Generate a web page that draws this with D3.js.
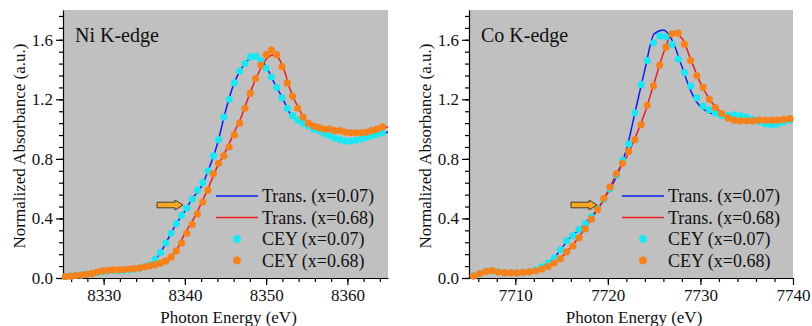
<!DOCTYPE html>
<html>
<head>
<meta charset="utf-8">
<script src="https://cdn.jsdelivr.net/npm/d3@7"></script>
<style>
  body { margin: 0; background: #fff; }
  svg text { font-family: "Liberation Serif", "Times New Roman", serif; fill: #111; }
  .axis path, .axis line { stroke: #000; stroke-width: 1.2; }
</style>
</head>
<body>
<div id="chart"></div>
<script>
// ---- Ni K-edge data ----
var niTransE = [8325,8326,8327,8328,8329,8330,8331,8332,8333,8334,8335,8336,8337,8338,8339,8340,8341,8342,8343,8344,
  8345,8346,8347,8348,8349,8350,8351,8352,8353,8354,8355,8356,8357,8358,8359,8360,8361,8362,8363,8364,8365];
var niTrans007 = [0.01,0.015,0.02,0.025,0.035,0.045,0.05,0.05,0.055,0.06,0.075,0.10,0.17,0.27,0.37,0.45,0.54,0.61,0.74,0.90,
  1.12,1.30,1.41,1.47,1.48,1.42,1.31,1.21,1.10,1.055,1.03,1.00,0.975,0.955,0.935,0.925,0.925,0.935,0.95,0.965,0.98];
var niTrans068 = [0.01,0.015,0.02,0.025,0.035,0.05,0.055,0.055,0.06,0.065,0.075,0.085,0.10,0.13,0.19,0.30,0.39,0.50,0.62,0.75,
  0.85,0.97,1.09,1.24,1.37,1.47,1.50,1.43,1.26,1.14,1.05,1.02,1.005,0.995,0.99,0.98,0.975,0.975,0.985,1.00,1.015];
var niCeyE = [8325.3,8325.95,8326.6,8327.25,8327.9,8328.55,8329.2,8329.85,8330.5,8331.15,8331.8,8332.45,8333.1,8333.75,
  8334.4,8335.05,8335.7,8336.35,8337.0,8337.65,8338.3,8338.95,8339.6,8340.25,8340.9,8341.55,8342.2,8342.85,8343.5,8344.15,
  8344.8,8345.45,8346.1,8346.75,8347.4,8348.05,8348.7,8349.35,8350.0,8350.65,8351.3,8351.95,8352.6,8353.25,8353.9,8354.55,
  8355.2,8355.85,8356.5,8357.15,8357.8,8358.45,8359.1,8359.75,8360.4,8361.05,8361.7,8362.35,8363.0,8363.65,8364.3];
var niCey007 = [0.01,0.015,0.018,0.02,0.025,0.03,0.037,0.044,0.048,0.05,0.05,0.052,0.055,0.058,
  0.066,0.076,0.09,0.125,0.17,0.235,0.30,0.365,0.42,0.47,0.53,0.59,0.64,0.72,0.82,0.93,
  1.08,1.20,1.31,1.39,1.44,1.485,1.49,1.46,1.41,1.35,1.28,1.21,1.14,1.09,1.06,1.04,
  1.02,1.00,0.99,0.97,0.955,0.94,0.93,0.92,0.92,0.925,0.935,0.945,0.955,0.965,0.975];
var niCey068 = [0.01,0.012,0.016,0.02,0.025,0.03,0.04,0.048,0.052,0.055,0.055,0.057,0.06,0.063,
  0.067,0.075,0.082,0.09,0.10,0.115,0.14,0.18,0.235,0.30,0.36,0.43,0.51,0.59,0.70,0.77,
  0.82,0.88,0.96,1.04,1.14,1.24,1.34,1.43,1.50,1.53,1.50,1.42,1.31,1.22,1.14,1.08,
  1.04,1.02,1.01,1.00,1.00,0.99,0.99,0.98,0.975,0.975,0.975,0.98,0.99,1.00,1.015];

// ---- Co K-edge data ----
var coTransE = [7705,7706,7707,7708,7709,7710,7711,7712,7713,7714,7715,7716,7717,7718,7719,7720,7721,7722,
  7723,7724,7725,7726,7727,7728,7729,7730,7731,7732,7733,7734,7735,7736,7737,7738,7739,7740];
var coTrans007 = [0.015,0.03,0.045,0.045,0.035,0.035,0.037,0.05,0.08,0.12,0.20,0.275,0.33,0.40,0.47,0.575,0.69,0.86,
  1.13,1.40,1.64,1.665,1.59,1.42,1.25,1.15,1.11,1.095,1.09,1.09,1.08,1.06,1.045,1.04,1.05,1.06];
var coTrans068 = [0.015,0.03,0.045,0.042,0.035,0.034,0.038,0.045,0.065,0.095,0.14,0.205,0.285,0.375,0.47,0.58,0.71,0.81,
  0.95,1.11,1.31,1.51,1.645,1.61,1.46,1.31,1.20,1.12,1.075,1.06,1.055,1.055,1.06,1.06,1.065,1.07];
var coCeyE = [7705.5,7706.17,7706.84,7707.51,7708.18,7708.85,7709.52,7710.19,7710.86,7711.53,7712.2,7712.87,7713.54,
  7714.21,7714.88,7715.55,7716.22,7716.89,7717.56,7718.23,7718.9,7719.57,7720.24,7720.91,7721.58,7722.25,7722.92,
  7723.59,7724.26,7724.93,7725.6,7726.27,7726.94,7727.61,7728.28,7728.95,7729.62,7730.29,7730.96,7731.63,7732.3,
  7732.97,7733.64,7734.31,7734.98,7735.65,7736.32,7736.99,7737.66,7738.33,7739.0,7739.67];
var coCey007 = [0.015,0.03,0.043,0.048,0.042,0.036,0.034,0.034,0.037,0.042,0.055,0.075,0.10,
  0.135,0.19,0.25,0.285,0.325,0.365,0.41,0.465,0.53,0.60,0.69,0.79,0.90,1.11,
  1.30,1.46,1.58,1.625,1.62,1.57,1.47,1.38,1.29,1.21,1.155,1.13,1.105,1.09,
  1.09,1.095,1.09,1.08,1.065,1.05,1.035,1.03,1.035,1.05,1.06];
var coCey068 = [0.013,0.03,0.044,0.049,0.04,0.036,0.034,0.034,0.038,0.041,0.048,0.06,0.078,
  0.10,0.13,0.175,0.215,0.27,0.33,0.395,0.46,0.535,0.61,0.70,0.77,0.85,0.93,
  1.03,1.16,1.29,1.43,1.55,1.64,1.645,1.57,1.46,1.36,1.28,1.20,1.145,1.105,
  1.075,1.06,1.055,1.055,1.055,1.06,1.06,1.06,1.06,1.065,1.07];

var legendLabels = ["Trans. (x=0.07)", "Trans. (x=0.68)", "CEY (x=0.07)", "CEY (x=0.68)"];
var yTicks = [0.0, 0.4, 0.8, 1.2, 1.6];

var colors = { blue: "#0a1ef2", red: "#ee1c1c", cyan: "#1ce6f2", orange: "#f7821c" };

var width = 812, height = 326;
var svg = d3.select("#chart").append("svg").attr("width", width).attr("height", height);

function drawPanel(cfg) {
    var x = d3.scaleLinear().domain(cfg.xDomain).range([cfg.left, cfg.right]);
    var y = d3.scaleLinear().domain([0, 1.8]).range([278, 10]);
    var g = svg.append("g");

    g.append("rect")
        .attr("x", cfg.left).attr("y", y(1.8))
        .attr("width", cfg.right - cfg.left).attr("height", y(0) - y(1.8))
        .style("fill", "#c0c0c0");

    // minor ticks
    g.append("g").attr("class", "axis")
        .attr("transform", "translate(0," + y(0) + ")")
        .call(d3.axisBottom(x).tickValues(cfg.xMinor).tickSize(4).tickFormat(""))
        .call(function(s) { s.select(".domain").remove(); });
    g.append("g").attr("class", "axis")
        .attr("transform", "translate(" + cfg.left + ",0)")
        .call(d3.axisLeft(y).tickValues(d3.range(0, 1.81, 0.08)).tickSize(4).tickFormat(""))
        .call(function(s) { s.select(".domain").remove(); });

    // major axes
    var xAxis = g.append("g").attr("class", "axis")
        .attr("transform", "translate(0," + y(0) + ")")
        .call(d3.axisBottom(x).tickValues(cfg.xTicks).tickSize(7).tickSizeOuter(0).tickPadding(4).tickFormat(d3.format("d")));
    var yAxis = g.append("g").attr("class", "axis")
        .attr("transform", "translate(" + cfg.left + ",0)")
        .call(d3.axisLeft(y).tickValues(yTicks).tickSize(7).tickSizeOuter(0).tickPadding(3).tickFormat(d3.format(".1f")));
    xAxis.selectAll("text").style("font-size", "17px").style("font-family", "Liberation Serif");
    yAxis.selectAll("text").style("font-size", "17px").style("font-family", "Liberation Serif");

    g.append("text")
        .attr("x", (cfg.left + cfg.right) / 2 + 3).attr("y", 323)
        .attr("text-anchor", "middle").style("font-size", "17px")
        .text("Photon Energy (eV)");
    g.append("text")
        .attr("transform", "translate(" + (cfg.left - 38) + "," + 146 + ") rotate(-90)")
        .attr("text-anchor", "middle").style("font-size", "17px")
        .text("Normalized Absorbance (a.u.)");

    g.append("text")
        .attr("x", cfg.left + 12).attr("y", 42)
        .style("font-size", "20px")
        .text(cfg.title);

    var line = d3.line().x(function(d) { return x(d[0]); }).y(function(d) { return y(d[1]); }).curve(d3.curveMonotoneX);

    g.append("path").datum(d3.zip(cfg.transE, cfg.trans007))
        .attr("d", line).style("fill", "none").style("stroke", colors.blue).style("stroke-width", 1.5);
    g.append("path").datum(d3.zip(cfg.transE, cfg.trans068))
        .attr("d", line).style("fill", "none").style("stroke", colors.red).style("stroke-width", 1.5);

    g.append("g").selectAll("circle").data(d3.zip(cfg.ceyE, cfg.cey007)).enter()
        .append("circle")
        .attr("cx", function(d) { return x(d[0]); })
        .attr("cy", function(d) { return y(d[1]); })
        .attr("r", 3.6).style("fill", colors.cyan);
    g.append("g").selectAll("circle").data(d3.zip(cfg.ceyE, cfg.cey068)).enter()
        .append("circle")
        .attr("cx", function(d) { return x(d[0]); })
        .attr("cy", function(d) { return y(d[1]); })
        .attr("r", 3.6).style("fill", colors.orange);

    // arrow
    var ax = cfg.arrowX, ay = 205;
    g.append("path")
        .attr("d", "M" + ax + "," + (ay - 2.8) + "H" + (ax + 18) + "V" + (ay - 5) + "L" + (ax + 26) + "," + ay +
            "L" + (ax + 18) + "," + (ay + 5) + "V" + (ay + 2.8) + "H" + ax + "Z")
        .style("fill", "#f7a823").style("stroke", "#3a3020").style("stroke-width", 0.9);

    // legend
    var leg = g.append("g").attr("transform", "translate(" + cfg.legendX + ",196)");
    var legColors = [colors.blue, colors.red, colors.cyan, colors.orange];
    legendLabels.forEach(function(lbl, i) {
        var row = leg.append("g").attr("transform", "translate(0," + (i * 21.5) + ")");
        if (i < 2) {
            row.append("line").attr("x1", 0).attr("x2", 42).attr("y1", 0).attr("y2", 0)
                .style("stroke", legColors[i]).style("stroke-width", 1.5);
        } else {
            row.append("circle").attr("cx", 21).attr("cy", 0).attr("r", 3.9).style("fill", legColors[i]);
        }
        row.append("text").attr("x", 46).attr("y", 6).style("font-size", "18px").text(lbl);
    });
}

drawPanel({
    title: "Ni K-edge",
    left: 63, right: 388,
    xDomain: [8325, 8365],
    xTicks: [8330, 8340, 8350, 8360],
    xMinor: d3.range(8326, 8365, 2),
    transE: niTransE, trans007: niTrans007, trans068: niTrans068,
    ceyE: niCeyE, cey007: niCey007, cey068: niCey068,
    arrowX: 157, legendX: 216
});

drawPanel({
    title: "Co K-edge",
    left: 469, right: 793,
    xDomain: [7705, 7740],
    xTicks: [7710, 7720, 7730, 7740],
    xMinor: d3.range(7706, 7740, 2),
    transE: coTransE, trans007: coTrans007, trans068: coTrans068,
    ceyE: coCeyE, cey007: coCey007, cey068: coCey068,
    arrowX: 571, legendX: 622
});
</script>
</body>
</html>
